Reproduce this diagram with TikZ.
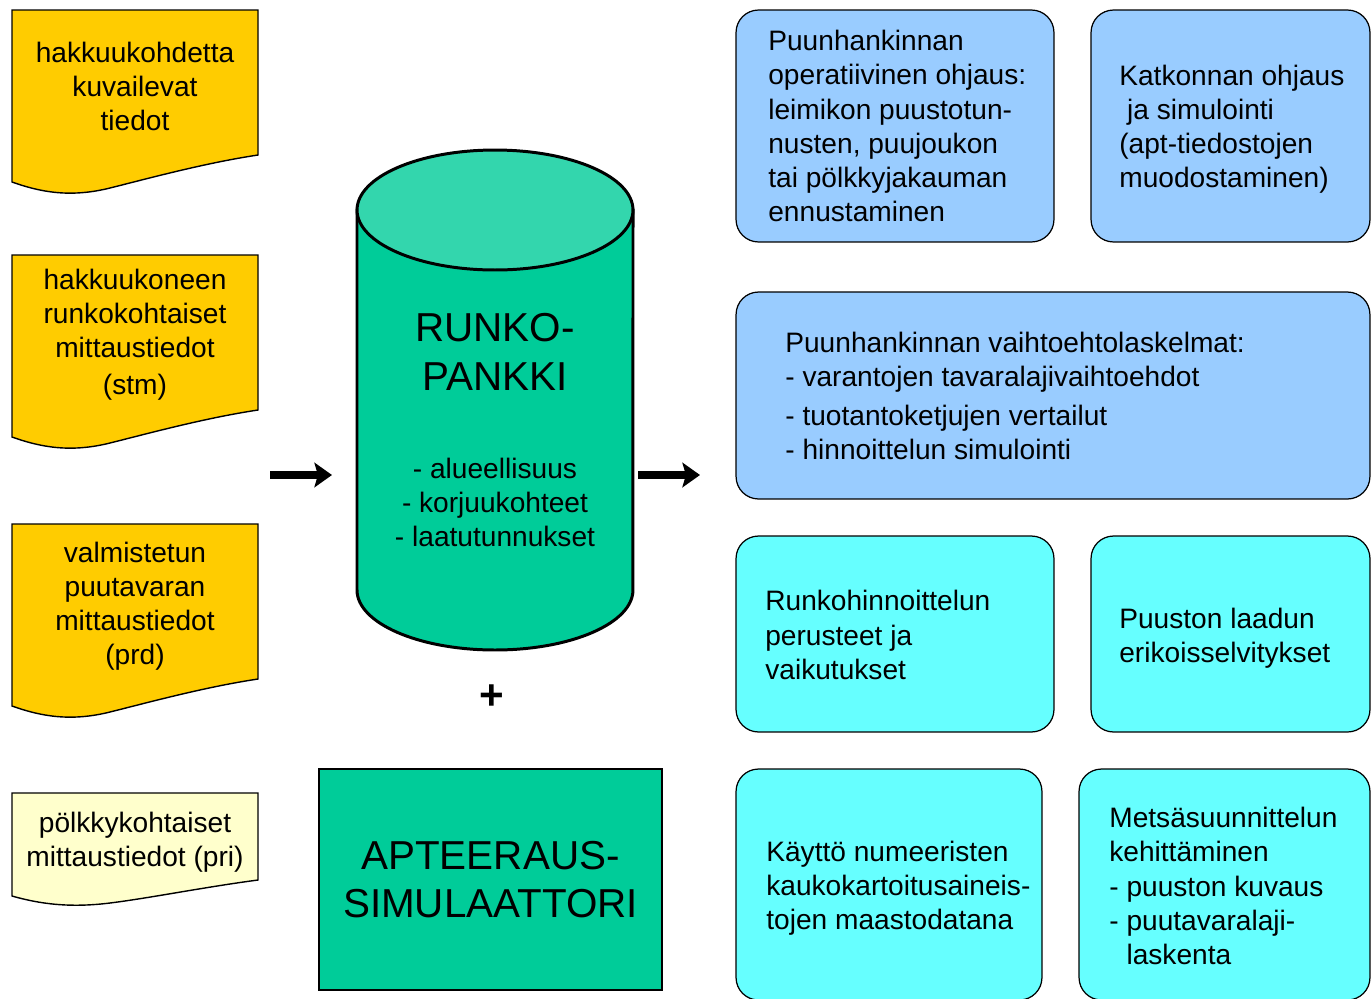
\documentclass[tikz,border=0pt]{standalone}
\usepackage{fontspec}
\setmainfont{Liberation Sans}
\usetikzlibrary{arrows.meta}
\definecolor{docor}{HTML}{FFCC00}
\definecolor{docpale}{HTML}{FFFFCC}
\definecolor{cylbody}{HTML}{00CC99}
\definecolor{cyltop}{HTML}{33D6AD}
\definecolor{boxblue}{HTML}{99CCFF}
\definecolor{boxcyan}{HTML}{66FFFF}
\begin{document}
\begin{tikzpicture}[x=0.02cm,y=-0.02cm,
 txt/.style={inner sep=0pt,font=\fontsize{16}{19.4}\selectfont},
 doctxt/.style={txt,align=center,anchor=north},
 boxtxt/.style={txt,align=left,anchor=west},
 bigtxt/.style={inner sep=0pt,font=\fontsize{23}{27.8}\selectfont,align=center},
 docshape/.style={draw=black,line width=0.8pt},
 rbox/.style={draw=black,line width=0.7pt,rounded corners=0.45cm,inner sep=0pt},
 bigarrow/.style={line width=4pt,-{Stealth[length=10pt,width=14pt,inset=2pt]}}
]
\useasboundingbox (0,0) rectangle (1372,998);

% document shapes
\draw[docshape,fill=docor] (12,10) -- (258,10) -- (258,155) .. controls (205,163) and (150,178) .. (110,188) .. controls (70,198) and (40,192) .. (12,182) -- cycle;
\draw[docshape,fill=docor] (12,255) -- (258,255) -- (258,410) .. controls (205,418) and (150,433) .. (110,443) .. controls (70,453) and (40,447) .. (12,437) -- cycle;
\draw[docshape,fill=docor] (12,524) -- (258,524) -- (258,679) .. controls (205,687) and (150,702) .. (110,712) .. controls (70,722) and (40,716) .. (12,706) -- cycle;
\draw[docshape,fill=docpale] (12,793) -- (258,793) -- (258,880) .. controls (205,887) and (150,898) .. (110,903) .. controls (70,908) and (40,904) .. (12,896) -- cycle;

\node[doctxt] (d1) at (135,42) {hakkuukohdetta\\kuvailevat\\tiedot};
\node[doctxt] (d2) at (135,269) {hakkuukoneen\\runkokohtaiset\\mittaustiedot\\[1.7pt](stm)};
\node[doctxt] (d3) at (135,542) {valmistetun\\puutavaran\\mittaustiedot\\(prd)};
\node[doctxt] (d4) at (135,812) {pölkkykohtaiset\\mittaustiedot (pri)};

% cylinder
\draw[line width=1.7pt,fill=cylbody] (357,210) -- (357,590) arc[start angle=180,end angle=360,x radius=2.76cm,y radius=1.2cm] -- (633,210) -- cycle;
\draw[line width=1.7pt,fill=cyltop] (495,210) ellipse [x radius=2.76cm,y radius=1.2cm];
\node[bigtxt,anchor=north] (runko) at (495,313) {RUNKO-\\PANKKI};
\node[doctxt] (runkolist) at (495,458) {- alueellisuus\\- korjuukohteet\\- laatutunnukset};

\node[font=\fontsize{24}{28}\selectfont\bfseries,inner sep=0pt] (plus) at (492,697) {+};

\node[bigtxt,draw=black,line width=1.2pt,fill=cylbody,minimum width=6.86cm,minimum height=4.42cm] (apt) at (490.5,879.5) {APTEERAUS-\\SIMULAATTORI};

% arrows
\coordinate (la) at (270,475);
\coordinate (lb) at (332,475);
\coordinate (ra) at (638,475);
\coordinate (rb) at (700,475);
\draw[bigarrow] (la) -- (lb);
\draw[bigarrow] (ra) -- (rb);

% right boxes
\node[rbox,fill=boxblue,minimum width=6.36cm,minimum height=4.64cm] (b1) at (895,126) {};
\node[rbox,fill=boxblue,minimum width=5.58cm,minimum height=4.64cm] (b2) at (1230.5,126) {};
\node[rbox,fill=boxblue,minimum width=12.68cm,minimum height=4.14cm] (b3) at (1053,395.5) {};
\node[rbox,fill=boxcyan,minimum width=6.36cm,minimum height=3.92cm] (b4) at (895,634) {};
\node[rbox,fill=boxcyan,minimum width=5.58cm,minimum height=3.92cm] (b5) at (1230.5,634) {};
\node[rbox,fill=boxcyan,minimum width=6.12cm,minimum height=4.62cm] (b6) at (889,884.5) {};
\node[rbox,fill=boxcyan,minimum width=5.82cm,minimum height=4.62cm] (b7) at (1224.5,884.5) {};

\node[boxtxt] (t1) at (768,126) {Puunhankinnan\\operatiivinen ohjaus:\\leimikon puustotun-\\nusten, puujoukon\\tai pölkkyjakauman\\ennustaminen};
\node[boxtxt] (t2) at (1119,129) {Katkonnan ohjaus\\\hspace*{0.278em}ja simulointi\\(apt-tiedostojen\\muodostaminen)};
\node[boxtxt] (t3) at (785,396) {Puunhankinnan vaihtoehtolaskelmat:\\- varantojen tavaralajivaihtoehdot\\[3pt]- tuotantoketjujen vertailut\\- hinnoittelun simulointi};
\node[boxtxt] (t4) at (765,635) {Runkohinnoittelun\\perusteet ja\\vaikutukset};
\node[boxtxt] (t5) at (1119,638) {Puuston laadun\\erikoisselvitykset};
\node[boxtxt] (t6) at (766,888) {Käyttö numeeristen\\kaukokartoitusaineis-\\tojen maastodatana};
\node[boxtxt] (t7) at (1109,886) {Metsäsuunnittelun\\kehittäminen\\- puuston kuvaus\\- puutavaralaji-\\\phantom{- }laskenta};
\end{tikzpicture}
\end{document}
